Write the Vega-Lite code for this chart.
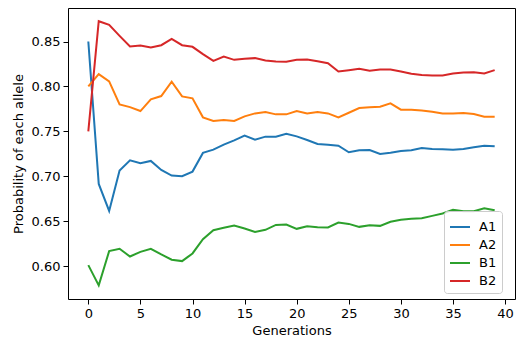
{
  "$schema": "https://vega.github.io/schema/vega-lite/v6.json",
  "width": 447,
  "height": 291,
  "autosize": "none",
  "padding": {"left": 68, "top": 8, "right": 1, "bottom": 48},
  "background": "white",
  "config": {
    "font": "DejaVu Sans",
    "view": {"stroke": "#000", "strokeWidth": 1},
    "axis": {
      "grid": false,
      "domain": false,
      "tickColor": "#000",
      "tickSize": 5,
      "tickWidth": 1,
      "labelColor": "#000",
      "labelFontSize": 13,
      "labelFont": "DejaVu Sans",
      "titleFont": "DejaVu Sans",
      "titleFontSize": 13,
      "titleFontWeight": "normal",
      "titleColor": "#000",
      "labelPadding": 3
    }
  },
  "data": {
    "values": [
      {"g":0,"allele":"A1","p":0.85},{"g":1,"allele":"A1","p":0.6915},{"g":2,"allele":"A1","p":0.6614},{"g":3,"allele":"A1","p":0.7063},{"g":4,"allele":"A1","p":0.7178},{"g":5,"allele":"A1","p":0.7145},{"g":6,"allele":"A1","p":0.7171},{"g":7,"allele":"A1","p":0.7071},{"g":8,"allele":"A1","p":0.7008},{"g":9,"allele":"A1","p":0.7},
      {"g":10,"allele":"A1","p":0.7052},{"g":11,"allele":"A1","p":0.726},{"g":12,"allele":"A1","p":0.7296},{"g":13,"allele":"A1","p":0.7352},{"g":14,"allele":"A1","p":0.74},{"g":15,"allele":"A1","p":0.7452},{"g":16,"allele":"A1","p":0.7407},{"g":17,"allele":"A1","p":0.7441},{"g":18,"allele":"A1","p":0.7441},{"g":19,"allele":"A1","p":0.7474},
      {"g":20,"allele":"A1","p":0.7444},{"g":21,"allele":"A1","p":0.7404},{"g":22,"allele":"A1","p":0.7359},{"g":23,"allele":"A1","p":0.7352},{"g":24,"allele":"A1","p":0.7341},{"g":25,"allele":"A1","p":0.7267},{"g":26,"allele":"A1","p":0.7289},{"g":27,"allele":"A1","p":0.7293},{"g":28,"allele":"A1","p":0.7248},{"g":29,"allele":"A1","p":0.7263},
      {"g":30,"allele":"A1","p":0.7281},{"g":31,"allele":"A1","p":0.7289},{"g":32,"allele":"A1","p":0.7315},{"g":33,"allele":"A1","p":0.7304},{"g":34,"allele":"A1","p":0.73},{"g":35,"allele":"A1","p":0.7296},{"g":36,"allele":"A1","p":0.7304},{"g":37,"allele":"A1","p":0.7322},{"g":38,"allele":"A1","p":0.7341},{"g":39,"allele":"A1","p":0.7333},
      {"g":0,"allele":"A2","p":0.80},{"g":1,"allele":"A2","p":0.8137},{"g":2,"allele":"A2","p":0.8056},{"g":3,"allele":"A2","p":0.78},{"g":4,"allele":"A2","p":0.777},{"g":5,"allele":"A2","p":0.7726},{"g":6,"allele":"A2","p":0.7856},{"g":7,"allele":"A2","p":0.7893},{"g":8,"allele":"A2","p":0.8052},{"g":9,"allele":"A2","p":0.7889},
      {"g":10,"allele":"A2","p":0.7867},{"g":11,"allele":"A2","p":0.7656},{"g":12,"allele":"A2","p":0.7615},{"g":13,"allele":"A2","p":0.7626},{"g":14,"allele":"A2","p":0.7615},{"g":15,"allele":"A2","p":0.7667},{"g":16,"allele":"A2","p":0.77},{"g":17,"allele":"A2","p":0.7715},{"g":18,"allele":"A2","p":0.7689},{"g":19,"allele":"A2","p":0.7689},
      {"g":20,"allele":"A2","p":0.7726},{"g":21,"allele":"A2","p":0.77},{"g":22,"allele":"A2","p":0.7715},{"g":23,"allele":"A2","p":0.77},{"g":24,"allele":"A2","p":0.7656},{"g":25,"allele":"A2","p":0.7707},{"g":26,"allele":"A2","p":0.7759},{"g":27,"allele":"A2","p":0.7767},{"g":28,"allele":"A2","p":0.7774},{"g":29,"allele":"A2","p":0.7811},
      {"g":30,"allele":"A2","p":0.7741},{"g":31,"allele":"A2","p":0.7741},{"g":32,"allele":"A2","p":0.7733},{"g":33,"allele":"A2","p":0.7719},{"g":34,"allele":"A2","p":0.77},{"g":35,"allele":"A2","p":0.77},{"g":36,"allele":"A2","p":0.7704},{"g":37,"allele":"A2","p":0.7693},{"g":38,"allele":"A2","p":0.7663},{"g":39,"allele":"A2","p":0.7663},
      {"g":0,"allele":"B1","p":0.6011},{"g":1,"allele":"B1","p":0.5786},{"g":2,"allele":"B1","p":0.6167},{"g":3,"allele":"B1","p":0.6193},{"g":4,"allele":"B1","p":0.6107},{"g":5,"allele":"B1","p":0.6159},{"g":6,"allele":"B1","p":0.6193},{"g":7,"allele":"B1","p":0.613},{"g":8,"allele":"B1","p":0.6071},{"g":9,"allele":"B1","p":0.6056},
      {"g":10,"allele":"B1","p":0.6141},{"g":11,"allele":"B1","p":0.63},{"g":12,"allele":"B1","p":0.64},{"g":13,"allele":"B1","p":0.6426},{"g":14,"allele":"B1","p":0.6452},{"g":15,"allele":"B1","p":0.6419},{"g":16,"allele":"B1","p":0.6381},{"g":17,"allele":"B1","p":0.6404},{"g":18,"allele":"B1","p":0.6459},{"g":19,"allele":"B1","p":0.6463},
      {"g":20,"allele":"B1","p":0.6415},{"g":21,"allele":"B1","p":0.6444},{"g":22,"allele":"B1","p":0.6433},{"g":23,"allele":"B1","p":0.643},{"g":24,"allele":"B1","p":0.6485},{"g":25,"allele":"B1","p":0.647},{"g":26,"allele":"B1","p":0.6437},{"g":27,"allele":"B1","p":0.6456},{"g":28,"allele":"B1","p":0.6448},{"g":29,"allele":"B1","p":0.6493},
      {"g":30,"allele":"B1","p":0.6515},{"g":31,"allele":"B1","p":0.6526},{"g":32,"allele":"B1","p":0.6533},{"g":33,"allele":"B1","p":0.6559},{"g":34,"allele":"B1","p":0.6585},{"g":35,"allele":"B1","p":0.6626},{"g":36,"allele":"B1","p":0.6611},{"g":37,"allele":"B1","p":0.6611},{"g":38,"allele":"B1","p":0.6644},{"g":39,"allele":"B1","p":0.6622},
      {"g":0,"allele":"B2","p":0.75},{"g":1,"allele":"B2","p":0.8726},{"g":2,"allele":"B2","p":0.8685},{"g":3,"allele":"B2","p":0.8563},{"g":4,"allele":"B2","p":0.8444},{"g":5,"allele":"B2","p":0.8456},{"g":6,"allele":"B2","p":0.8433},{"g":7,"allele":"B2","p":0.8459},{"g":8,"allele":"B2","p":0.853},{"g":9,"allele":"B2","p":0.8459},
      {"g":10,"allele":"B2","p":0.8441},{"g":11,"allele":"B2","p":0.8359},{"g":12,"allele":"B2","p":0.8285},{"g":13,"allele":"B2","p":0.8333},{"g":14,"allele":"B2","p":0.8296},{"g":15,"allele":"B2","p":0.8307},{"g":16,"allele":"B2","p":0.8315},{"g":17,"allele":"B2","p":0.8289},{"g":18,"allele":"B2","p":0.8278},{"g":19,"allele":"B2","p":0.8274},
      {"g":20,"allele":"B2","p":0.8296},{"g":21,"allele":"B2","p":0.83},{"g":22,"allele":"B2","p":0.8281},{"g":23,"allele":"B2","p":0.8259},{"g":24,"allele":"B2","p":0.8167},{"g":25,"allele":"B2","p":0.8181},{"g":26,"allele":"B2","p":0.8196},{"g":27,"allele":"B2","p":0.8174},{"g":28,"allele":"B2","p":0.8189},{"g":29,"allele":"B2","p":0.8189},
      {"g":30,"allele":"B2","p":0.8167},{"g":31,"allele":"B2","p":0.8141},{"g":32,"allele":"B2","p":0.8126},{"g":33,"allele":"B2","p":0.8122},{"g":34,"allele":"B2","p":0.8122},{"g":35,"allele":"B2","p":0.8144},{"g":36,"allele":"B2","p":0.8156},{"g":37,"allele":"B2","p":0.8159},{"g":38,"allele":"B2","p":0.8144},{"g":39,"allele":"B2","p":0.8181}
    ]
  },
  "mark": {"type": "line", "strokeWidth": 2, "clip": true},
  "encoding": {
    "x": {
      "field": "g",
      "type": "quantitative",
      "scale": {"domain": [-1.95, 40.95], "nice": false, "zero": false},
      "axis": {"values": [0, 5, 10, 15, 20, 25, 30, 35, 40], "title": "Generations", "titlePadding": 4}
    },
    "y": {
      "field": "p",
      "type": "quantitative",
      "scale": {"domain": [0.5634, 0.8873], "nice": false, "zero": false},
      "axis": {"values": [0.6, 0.65, 0.7, 0.75, 0.8, 0.85], "format": ".2f", "title": "Probability of each allele", "titlePadding": 6}
    },
    "color": {
      "field": "allele",
      "type": "nominal",
      "scale": {"domain": ["A1", "A2", "B1", "B2"], "range": ["#1f77b4", "#ff7f0e", "#2ca02c", "#d62728"]},
      "legend": {
        "title": null,
        "orient": "none",
        "legendX": 376,
        "legendY": 203,
        "symbolType": "stroke",
        "symbolStrokeWidth": 2,
        "symbolSize": 400,
        "labelFontSize": 13,
        "labelFont": "DejaVu Sans",
        "labelColor": "#000",
        "labelOffset": 8,
        "rowPadding": 0,
        "fillColor": "rgba(255,255,255,0.8)",
        "strokeColor": "#ccc",
        "cornerRadius": 3,
        "padding": 5
      }
    }
  }
}
